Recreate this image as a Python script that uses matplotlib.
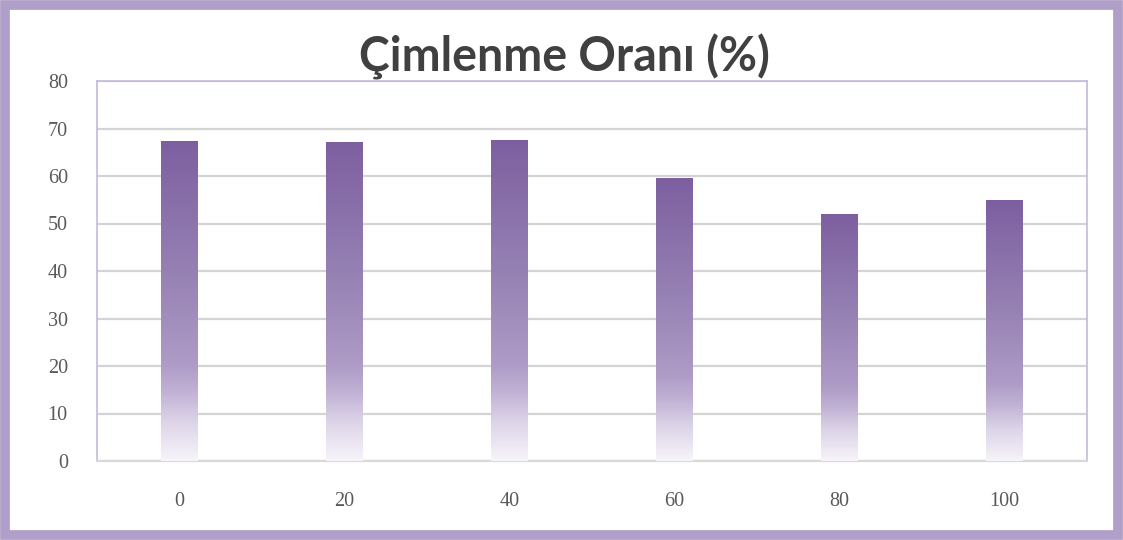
import matplotlib
matplotlib.use('Agg')
import matplotlib.pyplot as plt
import numpy as np
from matplotlib.colors import LinearSegmentedColormap
from matplotlib.patches import Rectangle

# --- data ---
categories = ['0', '20', '40', '60', '80', '100']
values = [67.4, 67.1, 67.6, 59.6, 52.1, 54.9]
yticks = [0, 10, 20, 30, 40, 50, 60, 70, 80]
title = 'Çimlenme Oranı (%)'

# --- gradient colours (bottom -> top) ---
grad = LinearSegmentedColormap.from_list('lav', [
    (0.00, '#f7f4fa'),
    (0.12, '#ddd4e8'),
    (0.22, '#bfb0d4'),
    (0.30, '#ae9bc6'),
    (0.60, '#9580b3'),
    (1.00, '#7d5fa0'),
])

fig = plt.figure(figsize=(11.23, 5.4), dpi=100)

# outer purple frame (drawn on top, no fill)
fig.patches.append(Rectangle((0.0045, 0.0085), 0.991, 0.983, transform=fig.transFigure,
                             facecolor='none', edgecolor='#b09fc8', linewidth=7, zorder=10))

ax = fig.add_axes([97 / 1123, 1 - 461 / 540, 990 / 1123, 380 / 540])
ax.set_facecolor('none')

x = np.arange(len(categories))
bw = 0.22
bars = ax.bar(x, values, bw, color='none', edgecolor='none', zorder=3)

ax.set_xlim(-0.5, len(categories) - 0.5)
ax.set_ylim(0, 80)

# fill each bar with a vertical gradient
g = np.linspace(0, 1, 256).reshape(-1, 1)
for rect in bars:
    x0 = rect.get_x()
    h = rect.get_height()
    im = ax.imshow(g, cmap=grad, origin='lower', aspect='auto',
                   extent=[x0, x0 + rect.get_width(), 0, h], zorder=3)
    im.set_clip_path(rect)

ax.set_yticks(yticks)
ax.set_xticks(x)
ax.set_xticklabels(categories)
ax.yaxis.grid(True, color='#d4d4d4', linewidth=1.6, zorder=0)
ax.set_axisbelow(True)
ax.tick_params(length=0, colors='#595959', labelsize=14.5)
ax.tick_params(axis='x', pad=22)
ax.tick_params(axis='y', pad=21)
for lab in ax.get_xticklabels() + ax.get_yticklabels():
    lab.set_family('Liberation Serif')

for side in ['left', 'top', 'right']:
    ax.spines[side].set_color('#c5b9d9')
    ax.spines[side].set_linewidth(1.2)
ax.spines['bottom'].set_color('#d9d9d9')
ax.spines['bottom'].set_linewidth(1.6)

fig.text(0.503, 1 - 57 / 540, title, ha='center', va='center',
         fontsize=33.5, fontweight='bold', color='#404040', family='Lato')

fig.savefig('out.png', dpi=100)
